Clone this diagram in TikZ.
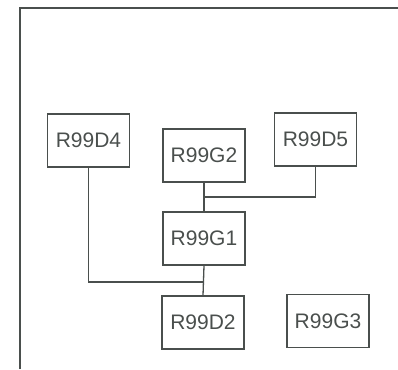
\documentclass[tikz,border=0pt]{standalone}
\usepackage{fontspec}
\setmainfont{Liberation Sans}
\usepackage{tikz}
\usepackage{xcolor}
\definecolor{linegray}{HTML}{4A4F4D}

\begin{document}
\begin{tikzpicture}[x=1pt, y=-1pt, line width=1.3pt, draw=linegray,
  box/.style={draw=linegray, line width=1.3pt, minimum width=82pt, minimum height=53pt, inner sep=0pt, text=linegray, font=\fontsize{21}{24}\selectfont}]
\useasboundingbox (0,0) rectangle (398,369);
\draw[linegray] (20,369) -- (20,8) -- (398,8);
\node[box] (D4) at (88.5,140.5) {R99D4};
\node[box] (G2) at (204,155.5) {R99G2};
\node[box] (D5) at (315.5,139.5) {R99D5};
\node[box] (G1) at (204,238.5) {R99G1};
\node[box] (D2) at (203,322.5) {R99D2};
\node[box] (G3) at (328,321) {R99G3};
\coordinate (j1) at (204,197);
\coordinate (j2) at (203.5,282);
\draw[linegray] (G2) -- (G1);
\draw[linegray] (j1) -| (D5);
\draw[linegray] (G1.south) -- (D2.north);
\draw[linegray] (D4) |- (j2);
\end{tikzpicture}
\end{document}
